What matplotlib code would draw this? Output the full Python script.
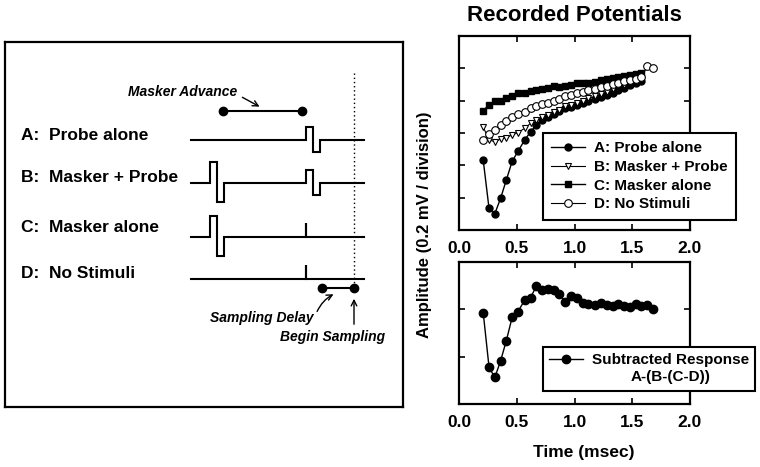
import matplotlib
matplotlib.use("Agg")
import matplotlib.pyplot as plt

plt.rcParams["font.family"] = ["Liberation Sans", "DejaVu Sans"]
plt.rcParams["font.weight"] = "bold"

# schematic rows (left panel)
row_labels = ["A:  Probe alone", "B:  Masker + Probe", "C:  Masker alone", "D:  No Stimuli"]
has_masker = [False, True, True, False]
has_probe = [True, True, False, False]

# recorded potentials, amplitude in divisions
time_ms = [0.21, 0.26, 0.31, 0.36, 0.41, 0.46, 0.51, 0.57, 0.62, 0.67,
           0.72, 0.77, 0.82, 0.87, 0.92, 0.97, 1.02, 1.07, 1.12, 1.18,
           1.23, 1.28, 1.33, 1.38, 1.43, 1.48, 1.53, 1.58, 1.63, 1.68]
probe_alone = [2.15, 0.67, 0.50, 0.98, 1.55, 2.12, 2.43, 2.79, 3.04, 3.24,
               3.40, 3.50, 3.60, 3.68, 3.76, 3.80, 3.86, 3.92, 3.98, 4.04,
               4.10, 4.18, 4.25, 4.33, 4.40, 4.48, 4.56, 4.62]
masker_probe = [3.18, 2.79, 2.73, 2.81, 2.86, 2.94, 3.01, 3.15, 3.30, 3.41,
                3.49, 3.56, 3.66, 3.72, 3.82, 3.87, 3.92, 4.00, 4.08, 4.13,
                4.21, 4.28, 4.36, 4.44, 4.49, 4.59, 4.66, 4.70]
masker_alone = [3.69, 3.87, 3.99, 3.99, 4.08, 4.13, 4.23, 4.25, 4.31, 4.33,
                4.36, 4.39, 4.44, 4.41, 4.44, 4.49, 4.54, 4.56, 4.56, 4.59,
                4.64, 4.66, 4.70, 4.73, 4.75, 4.78, 4.82, 4.85]
no_stimuli = [2.79, 2.97, 3.10, 3.25, 3.38, 3.49, 3.59, 3.66, 3.77, 3.82,
              3.89, 3.94, 4.00, 4.05, 4.13, 4.18, 4.23, 4.28, 4.33, 4.36,
              4.41, 4.46, 4.51, 4.56, 4.60, 4.64, 4.68, 4.72, 5.06, 5.01]
subtracted = [1.92, 0.78, 0.56, 0.91, 1.34, 1.83, 1.95, 2.20, 2.25, 2.49,
              2.40, 2.42, 2.41, 2.33, 2.15, 2.28, 2.23, 2.13, 2.11, 2.10,
              2.13, 2.09, 2.08, 2.12, 2.06, 2.05, 2.11, 2.08, 2.10, 2.01]
x_ticks = [0.0, 0.5, 1.0, 1.5, 2.0]


def biphasic(x, y0, up, down, w=7):
    return [x, x, x + w, x + w, x + 2 * w, x + 2 * w], [y0, y0 - up, y0 - up, y0 + down, y0 + down, y0]


fig = plt.figure(figsize=[7.6, 4.67], dpi=100)

# ---- left schematic, axes in figure pixel units ----
sx = fig.add_axes([5 / 760, 60 / 467, 398 / 760, 365 / 467])
sx.set_xlim(5, 403)
sx.set_ylim(407, 42)
sx.set_xticks([])
sx.set_yticks([])
for s in sx.spines.values():
    s.set_linewidth(1.6)

baselines = [140, 183, 237, 279]
label_y = [135, 178, 227, 273]
x_start, x_end, x_mask, x_probe, x_samp = 191, 364, 210, 306, 354
for i, lab in enumerate(row_labels):
    y0 = baselines[i]
    sx.text(21, label_y[i], lab, fontsize=12.5, va="center", ha="left")
    xs, ys = [x_start], [y0]
    if has_masker[i]:
        px, py = biphasic(x_mask, y0, 21, 19)
        xs += px
        ys += py
    if has_probe[i]:
        px, py = biphasic(x_probe, y0, 13, 12)
        xs += px
        ys += py
    else:
        xs += [x_probe, x_probe, x_probe]
        ys += [y0, y0 - 14, y0]
    xs.append(x_end)
    ys.append(y0)
    sx.plot(xs, ys, color="k", lw=1.5, solid_joinstyle="miter")

sx.plot([x_samp, x_samp], [73, 290], color="k", lw=1, ls=(0, (1, 2)))

# masker advance
sx.plot([223, 302], [111, 111], "k-o", lw=1.5, markersize=6)
sx.text(183, 92, "Masker Advance", fontsize=10, style="italic", ha="center", va="center")
sx.annotate("", xy=(262, 108), xytext=(240, 96),
            arrowprops=dict(arrowstyle="->", lw=1, color="k"))

# sampling delay
sx.plot([322, x_samp], [288, 288], "k-o", lw=1.5, markersize=6)
sx.text(262, 318, "Sampling Delay", fontsize=10, style="italic", ha="center", va="center")
sx.annotate("", xy=(336, 293), xytext=(316, 314),
            arrowprops=dict(arrowstyle="->", lw=1, color="k",
                            connectionstyle="arc3,rad=-0.2"))
sx.text(333, 337, "Begin Sampling", fontsize=10, style="italic", ha="center", va="center")
sx.annotate("", xy=(x_samp, 296), xytext=(x_samp, 327),
            arrowprops=dict(arrowstyle="->", lw=1, color="k"))


# ---- right panels ----
def style_axes(ax, ymax):
    ax.set_xlim(0, 2)
    ax.set_ylim(0, ymax)
    ax.set_xticks(x_ticks)
    ax.set_xticklabels([f"{v:.1f}" for v in x_ticks])
    ax.set_yticks(range(ymax + 1))
    ax.set_yticklabels([])
    ax.tick_params(direction="in", top=True, right=True, length=4, width=1.2,
                   labelsize=12.5, pad=8)
    for s in ax.spines.values():
        s.set_linewidth(1.6)


legend_kw = dict(borderaxespad=0, fontsize=11, handlelength=2.2, handletextpad=0.6,
                 fancybox=False, framealpha=1, edgecolor="k")

ax1 = fig.add_axes([459 / 760, 237 / 467, 231 / 760, 194 / 467])
style_axes(ax1, 6)
ax1.plot(time_ms[:len(probe_alone)], probe_alone, "k-o", lw=1, markersize=5,
         label="A: Probe alone")
ax1.plot(time_ms[:len(masker_probe)], masker_probe, "k-v", lw=0.8, markersize=5,
         markerfacecolor="w", markeredgewidth=0.8, label="B: Masker + Probe")
ax1.plot(time_ms[:len(masker_alone)], masker_alone, "k-s", lw=1, markersize=5,
         label="C: Masker alone")
ax1.plot(time_ms[:len(no_stimuli)], no_stimuli, "k-o", lw=0.8, markersize=5.5,
         markerfacecolor="w", markeredgewidth=0.8, label="D: No Stimuli")
leg1 = ax1.legend(loc="upper left", bbox_to_anchor=(0.364, 0.5), labelspacing=0.3,
                  borderpad=0.55, **legend_kw)
leg1.get_frame().set_linewidth(1.5)
ax1.set_title("Recorded Potentials", fontsize=16, fontweight="bold", pad=11)

ax2 = fig.add_axes([459 / 760, 63 / 467, 231 / 760, 142 / 467])
style_axes(ax2, 3)
ax2.plot(time_ms[:len(subtracted)], subtracted, "k-o", lw=1, markersize=6,
         label="Subtracted Response\nA-(B-(C-D))")
leg2 = ax2.legend(loc="upper left", bbox_to_anchor=(0.364, 0.401), borderpad=0.4,
                  **legend_kw)
leg2.get_frame().set_linewidth(1.5)
for t in leg2.get_texts():
    t.set_multialignment("center")
    t.set_linespacing(1.3)
# put the handle level with the first line of the label
for col in leg2._legend_handle_box.get_children():
    for item in col.get_children():
        item.align = "top"

fig.text(425 / 760, 1 - 225 / 467, "Amplitude (0.2 mV / division)", rotation=90,
         fontsize=12, ha="center", va="center")
fig.text(584 / 760, 1 - 453 / 467, "Time (msec)", fontsize=12.5, ha="center", va="center")

fig.savefig("out.png", dpi=100)
plt.close(fig)
